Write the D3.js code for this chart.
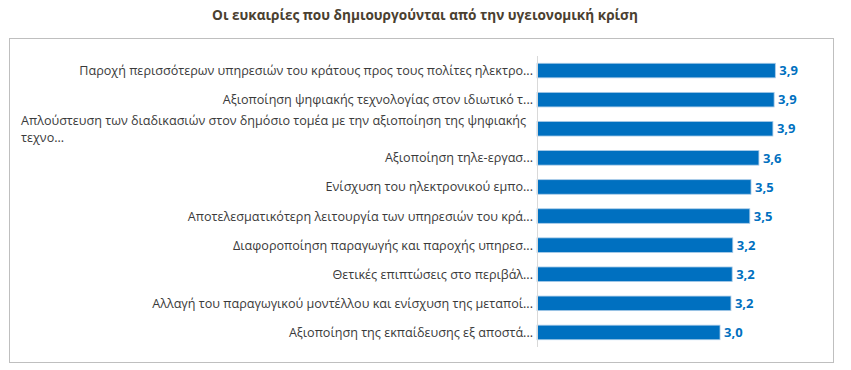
<!DOCTYPE html>
<html>
<head>
<meta charset="utf-8">
<script src="https://cdn.jsdelivr.net/npm/d3@7"></script>
<style>
  body { margin: 0; background: #fff; }
  svg { display: block; }
</style>
</head>
<body>
<svg id="chart" width="851" height="370"></svg>
<script>
var svg = d3.select('#chart')
var width = 851, height = 370;

var title = "Οι ευκαιρίες που δημιουργούνται από την υγειονομική κρίση";

// each label is a list of its lines
var categories = [
    ["Παροχή περισσότερων υπηρεσιών του κράτους προς τους πολίτες ηλεκτρο..."],
    ["Αξιοποίηση ψηφιακής τεχνολογίας στον ιδιωτικό τ..."],
    ["Απλούστευση των διαδικασιών στον δημόσιο τομέα με την αξιοποίηση της ψηφιακής", "τεχνο..."],
    ["Αξιοποίηση τηλε-εργασ..."],
    ["Ενίσχυση του ηλεκτρονικού εμπο..."],
    ["Αποτελεσματικότερη λειτουργία των υπηρεσιών του κρά..."],
    ["Διαφοροποίηση παραγωγής και παροχής υπηρεσ..."],
    ["Θετικές επιπτώσεις στο περιβάλ..."],
    ["Αλλαγή του παραγωγικού μοντέλλου και ενίσχυση της μεταποί..."],
    ["Αξιοποίηση της εκπαίδευσης εξ αποστά..."]
];
var values = [3.92, 3.90, 3.88, 3.65, 3.52, 3.50, 3.22, 3.21, 3.19, 3.01];

var margin = { top: 56, right: 40, bottom: 23, left: 537 };

var x = d3.scaleLinear().domain([0, 4.5]).range([margin.left, margin.left + 4.5 * 60.8]);
var y = d3.scaleBand()
    .domain(d3.range(values.length))
    .range([margin.top, height - margin.bottom])
    .paddingInner(0.5)
    .paddingOuter(0.25);

var fmt = function (v) { return d3.format(".1f")(v).replace(".", ","); };

// title
svg.append('text')
    .attr('x', 425)
    .attr('y', 20)
    .attr('text-anchor', 'middle')
    .style('font-family', 'Open Sans')
    .style('font-weight', 'bold')
    .style('font-size', '13.6px')
    .style('fill', '#4a4030')
    .text(title)

// chart frame
svg.append('rect')
    .attr('x', 9.5)
    .attr('y', 38.5)
    .attr('width', 824)
    .attr('height', 324)
    .style('fill', 'none')
    .style('stroke', '#bfbfbf')

// bars
svg.selectAll('rect.bar')
    .data(values)
    .enter()
    .append('rect')
    .attr('class', 'bar')
    .attr('x', x(0))
    .attr('y', function (d, i) { return y(i); })
    .attr('width', function (d) { return x(d) - x(0); })
    .attr('height', y.bandwidth())
    .attr('fill', '#0070c0')
    .attr('stroke', '#a9cbe8')
    .attr('stroke-width', 0.8)

// category axis line
svg.append('line')
    .attr('x1', x(0) + 0.5)
    .attr('x2', x(0) + 0.5)
    .attr('y1', margin.top)
    .attr('y2', height - margin.bottom)
    .style('stroke', '#d9d9d9')

// value labels
svg.selectAll('text.val')
    .data(values)
    .enter()
    .append('text')
    .attr('class', 'val')
    .attr('x', function (d) { return x(d) + 4; })
    .attr('y', function (d, i) { return y(i) + y.bandwidth() / 2; })
    .attr('dy', '0.36em')
    .style('font-family', 'Open Sans')
    .style('font-weight', 'bold')
    .style('font-size', '13px')
    .style('fill', '#0070c0')
    .text(fmt)

// category labels
var labels = svg.selectAll('text.cat')
    .data(categories)
    .enter()
    .append('text')
    .attr('class', 'cat')
    .style('font-family', 'Open Sans')
    .style('font-size', '12.6px')
    .style('fill', '#3a3a3a')

labels.each(function (lines, i) {
    var t = d3.select(this)
    var cy = y(i) + y.bandwidth() / 2
    if (lines.length === 1) {
        t.attr('x', x(0) - 4).attr('y', cy).attr('dy', '0.36em').attr('text-anchor', 'end').text(lines[0])
    } else {
        t.attr('text-anchor', 'start')
        lines.forEach(function (l, j) {
            t.append('tspan')
                .attr('x', 21)
                .attr('y', cy + (j - (lines.length - 1) / 2) * 17)
                .attr('dy', '0.36em')
                .text(l)
        })
    }
})
</script>
</body>
</html>
